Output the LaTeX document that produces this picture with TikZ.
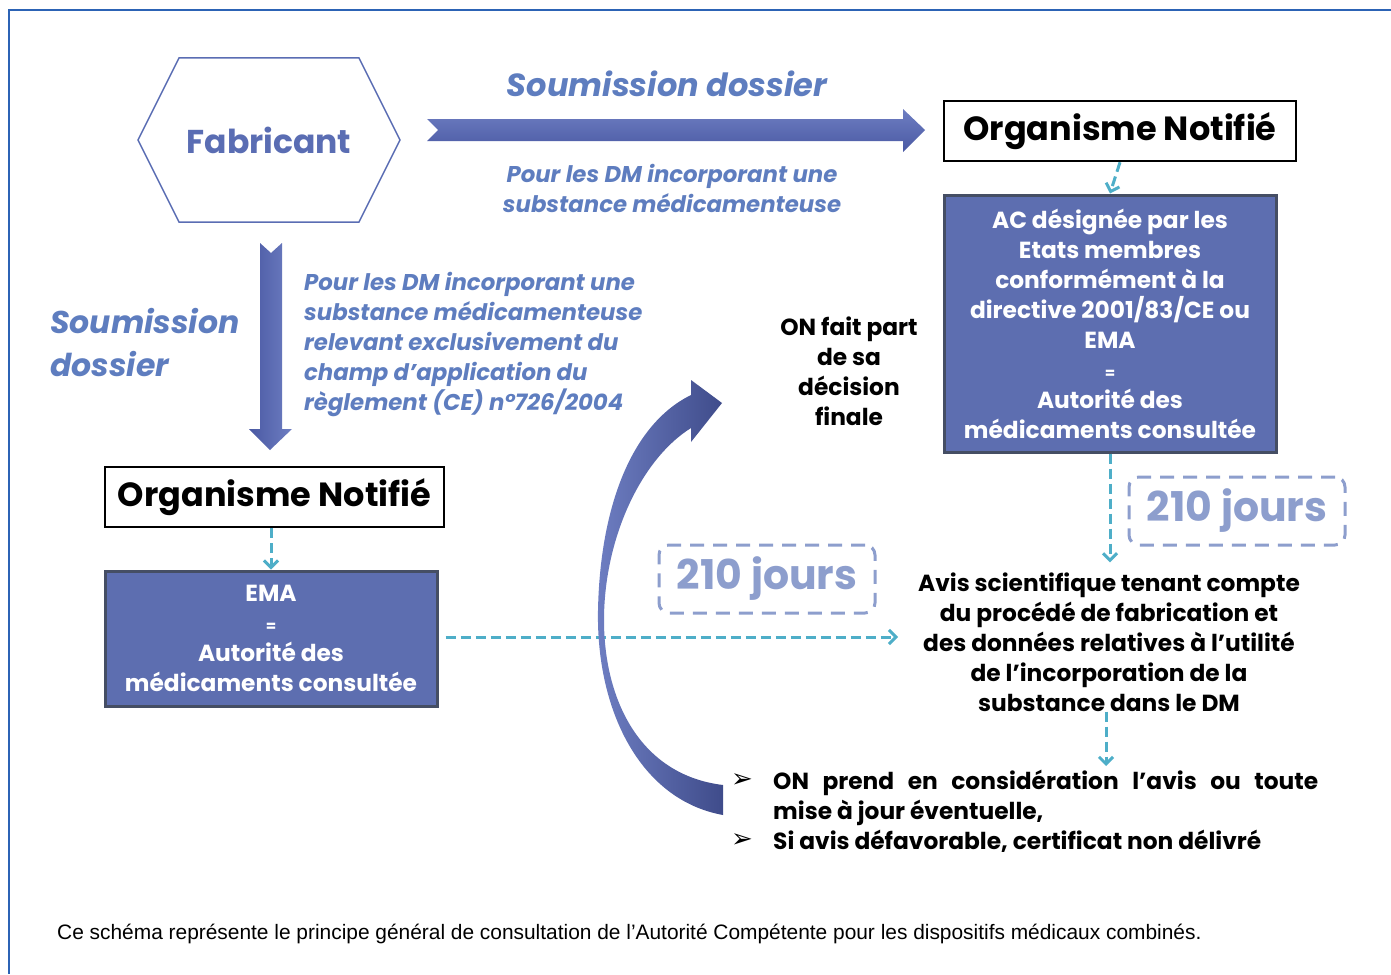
\documentclass[tikz,border=0pt]{standalone}
\usepackage{fontspec}
\setmainfont{Poppins}
\newfontfamily\notefont{Liberation Sans}
\newfontfamily\symbfont{DejaVu Sans}
\usetikzlibrary{positioning, arrows.meta, shapes}
\definecolor{framecol}{HTML}{2C63B5}
\definecolor{fabcol}{HTML}{5A6DB3}
\definecolor{subcol}{HTML}{5E7DBF}
\definecolor{boxfill}{HTML}{5D6EB0}
\definecolor{boxline}{HTML}{454E64}
\definecolor{tealcol}{HTML}{4EAEC8}
\definecolor{jourcol}{HTML}{8D9ECD}
\definecolor{arrowlight}{HTML}{6E7EC2}
\definecolor{arrowdark}{HTML}{4A59A3}

\begin{document}
\begin{tikzpicture}[x=1pt, y=-1pt,
            every node/.style={align=center, inner sep=0pt},
            onbox/.style={draw=black, line width=2.5pt, minimum height=60pt, font=\bfseries\fontsize{33.5}{38}\selectfont},
            autbox/.style={fill=boxfill, draw=boxline, line width=3pt, text=white, font=\bfseries\fontsize{23.3}{30}\selectfont},
            plain/.style={font=\bfseries\fontsize{23.3}{30}\selectfont},
            subtext/.style={text=subcol, font=\bfseries\itshape\fontsize{22.8}{30}\selectfont},
            jours/.style={draw=jourcol, text=jourcol, line width=3pt, dash pattern=on 14pt off 9pt, rounded corners=10pt, minimum width=216pt, minimum height=68pt, font=\bfseries\fontsize{41}{44}\selectfont},
            tealarrow/.style={draw=tealcol, line width=3pt, dash pattern=on 10pt off 5pt, -{Straight Barb[length=7pt, width=14pt, line width=3pt]}}
        ]
            \useasboundingbox (0,0) rectangle (1391,974);
            % frame (only top and left visible)
            \draw[framecol, line width=2.5pt] (1391,10) -- (9,10) -- (9,974);

            % manufacturer
            \draw[fabcol, line width=1.5pt] (138,140) -- (179,58) -- (359,58) -- (400,140) -- (359,222) -- (179,222) -- cycle;
            \node[text=fabcol, font=\bfseries\fontsize{33}{38}\selectfont] (fab) at (269,140) {Fabricant};

            % top route
            \shade[top color=arrowlight, bottom color=arrowdark] (427,119) -- (903,119) -- (903,109) -- (925,130) -- (903,152) -- (903,141) -- (427,141) -- (438,130) -- cycle;
            \node[text=subcol, font=\bfseries\itshape\fontsize{32}{36}\selectfont] (sub1) at (667,84) {Soumission dossier};
            \node[subtext] (dm1) at (672,188) {Pour les DM incorporant une\\substance médicamenteuse};

            \node[onbox, minimum width=352pt] (onr) at (1120,131) {Organisme Notifié};
            \node[autbox, minimum width=332pt, minimum height=257pt] (ac) at (1110,323.5) {AC désignée par les\\Etats membres\\conformément à la\\directive 2001/83/CE ou\\EMA\\{\fontsize{15}{30}\selectfont =}\\Autorité des\\médicaments consultée};
            \draw[tealarrow] (onr.south) -- (ac.north);

            % left route
            \shade[left color=arrowdark, right color=arrowlight] (260,243) -- (271,253) -- (282,243) -- (282,429) -- (292,429) -- (270,450) -- (249,429) -- (260,429) -- cycle;
            \node[text=subcol, font=\bfseries\itshape\fontsize{31.5}{43}\selectfont, align=left, anchor=west] (sub2) at (50,343) {Soumission\\dossier};
            \node[subtext, align=left, anchor=west] (dm2) at (304,344) {Pour les DM incorporant une\\substance médicamenteuse\\relevant exclusivement du\\champ d’application du\\règlement (CE) n°726/2004};

            \node[onbox, minimum width=339pt] (onl) at (274.5,497) {Organisme Notifié};
            \node[autbox, minimum width=332pt, minimum height=135pt] (ema) at (271,638.5) {EMA\\{\fontsize{15}{30}\selectfont =}\\Autorité des\\médicaments consultée};
            \draw[tealarrow] (ema.north |- onl.south) -- (ema.north);

            % opinion
            \node[plain] (avis) at (1109,642) {Avis scientifique tenant compte\\du procédé de fabrication et\\des données relatives à l’utilité\\de l’incorporation de la\\substance dans le DM};
            \draw[tealarrow, shorten >=10pt] (ac.south) -- (ac.south |- avis.north);
            \coordinate (avisin) at (898,637);
            \draw[tealarrow, shorten <=7pt] (ema.east |- avisin) -- (avisin);

            \node[jours] (j1) at (1237,511) {210 jours};
            \node[jours] (j2) at (767,579) {210 jours};

            \node[plain] (final) at (849,371) {ON fait part\\de sa\\décision\\finale};

            % decision list
            \node[plain, anchor=north west, text width=545pt, align=justify] (item1) at (773,770) {ON prend en considération l’avis ou toute mise à jour éventuelle,\\Si avis défavorable, certificat non délivré};
            \node[font=\symbfont\fontsize{26}{28}\selectfont, anchor=center] (b1) at (742,781) {➢};
            \node[font=\symbfont\fontsize{26}{28}\selectfont, anchor=center] (b2) at (742,841) {➢};
            \coordinate (listin) at (1106,766);
            \draw[tealarrow] (avis.south -| listin) -- (listin);

            % curved arrow back to the decision
            \shade[left color=arrowlight, right color=arrowdark!85!black]
                (723,815) .. controls (640,800) and (596,710) .. (598,610)
                .. controls (600,510) and (630,425) .. (691,395)
                -- (691,380) -- (722,403) -- (691,442) -- (691,428)
                .. controls (640,460) and (604,540) .. (604,620)
                .. controls (604,700) and (640,775) .. (723,785) -- cycle;

            \node[font=\notefont\fontsize{20.9}{24}\selectfont, anchor=west] (note) at (57,934) {Ce schéma représente le principe général de consultation de l’Autorité Compétente pour les dispositifs médicaux combinés.};
        \end{tikzpicture}
\end{document}
